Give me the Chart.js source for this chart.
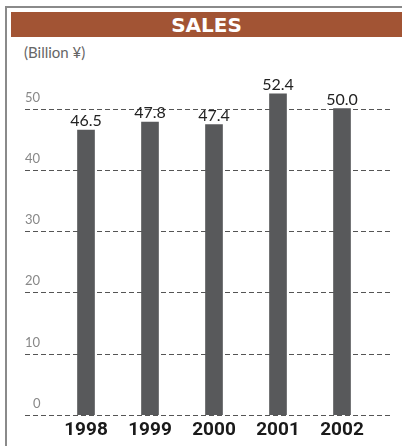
<!DOCTYPE html>
<html>
<head>
<meta charset="utf-8">
<script src="https://cdn.jsdelivr.net/npm/chart.js@4"></script>
<style>
  html, body { margin: 0; padding: 0; background: #fff; }
  #wrap { position: relative; width: 402px; height: 446px; overflow: hidden; }
  #frame {
    position: absolute; left: 5px; top: 6px; width: 420px; height: 460px;
    border-left: 2px solid #8a8a8a; border-top: 2px solid #8a8a8a;
  }
  #banner {
    position: absolute; left: 11px; top: 12px; width: 391px; height: 25px;
    background: #a25434; color: #fff; text-align: center;
    font: bold 20px "DejaVu Sans", sans-serif; line-height: 26px;
  }
  #unit {
    position: absolute; left: 24px; top: 43px;
    font: 15px Lato, sans-serif; color: #666;
  }
  canvas { position: absolute; left: 0; top: 0; }
</style>
</head>
<body>
<div id="wrap">
  <div id="frame"></div>
  <div id="banner">SALES</div>
  <div id="unit">(Billion ¥)</div>
  <canvas id="sales-chart" width="402" height="446"></canvas>
</div>
<script>
const years = ['1998', '1999', '2000', '2001', '2002'];
const sales = [46.5, 47.8, 47.4, 52.4, 50.0];
const yTicks = [0, 10, 20, 30, 40, 50];

// dashed gridlines run wider than the bars, with the tick labels sitting above them
const gridPlugin = {
    id: 'dashGrid',
    beforeDatasetsDraw(chart) {
        const c = chart.ctx;
        const y = chart.scales.y;
        c.save();
        c.strokeStyle = '#555';
        c.lineWidth = 1;
        c.setLineDash([5, 3]);
        c.font = '13px Lato, sans-serif';
        c.fillStyle = '#888';
        c.textBaseline = 'bottom';
        yTicks.forEach(v => {
            const py = Math.round(y.getPixelForValue(v)) + 0.5;
            c.beginPath();
            c.moveTo(25, py);
            c.lineTo(390, py);
            c.stroke();
            c.textAlign = 'left';
            c.fillText(String(v), v === 0 ? 33 : 25, py - 5);
        });
        c.restore();
    },
    afterDatasetsDraw(chart) {
        const c = chart.ctx;
        const meta = chart.getDatasetMeta(0);
        c.save();
        c.font = '16px Lato, sans-serif';
        c.fillStyle = '#222';
        c.textAlign = 'center';
        c.textBaseline = 'bottom';
        meta.data.forEach((bar, i) => {
            c.fillText(sales[i].toFixed(1), bar.x, bar.y - 1);
        });
        c.restore();
    }
};

const ctx = document.getElementById('sales-chart').getContext('2d');
const chart = new Chart(ctx, {
    type: 'bar',
    data: {
        labels: years,
        datasets: [
            {
                label: 'Sales',
                data: sales,
                backgroundColor: '#58595b',
                barThickness: 17,
            },
        ],
    },
    options: {
        responsive: false,
        animation: false,
        layout: {
            padding: { left: 54, right: 28, top: 78, bottom: 0 },
        },
        plugins: {
            legend: { display: false },
            tooltip: { enabled: false },
        },
        scales: {
            x: {
                grid: { display: false, drawTicks: false },
                border: { display: false },
                afterFit(scale) { scale.height = 31; },
                ticks: {
                    padding: 6,
                    color: '#1a1a1a',
                    font: {
                        family: 'Roboto, sans-serif',
                        weight: 'bold',
                        size: 19,
                        lineHeight: 1,
                    },
                },
            },
            y: {
                display: false,
                min: 0,
                max: 55,
            },
        },
    },
    plugins: [gridPlugin],
});
</script>
</body>
</html>
